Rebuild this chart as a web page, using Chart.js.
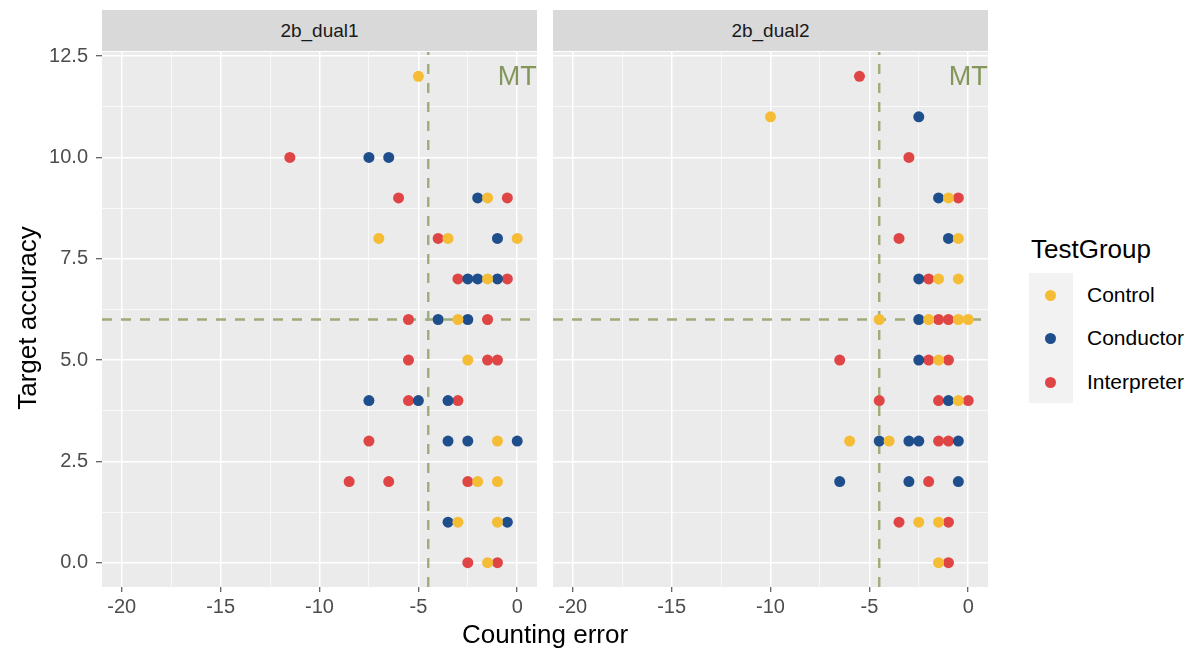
<!DOCTYPE html>
<html>
<head>
<meta charset="utf-8">
<script src="https://cdn.jsdelivr.net/npm/chart.js@4.4.0/dist/chart.umd.min.js"></script>
<style>
  body { margin: 0; width: 1198px; height: 653px; background: #fff; position: relative; overflow: hidden;
         font-family: "Liberation Sans", Arial, sans-serif; }
  .box { position: absolute; }
  .strip { position: absolute; top: 10px; height: 41px; width: 435px; background: #d9d9d9; color: #1a1a1a;
           font-size: 19px; line-height: 41px; text-align: center; }
  .dot { position: absolute; width: 11px; height: 11px; border-radius: 50%; }
  .lab { position: absolute; font-size: 21px; line-height: 26px; color: #000; }
</style>
</head>
<body>
<div class="strip" style="left:102px">2b_dual1</div>
<div class="strip" style="left:553px">2b_dual2</div>
<div class="box" style="left:0;top:40px;width:537px;height:580px"><canvas id="c1"></canvas></div>
<div class="box" style="left:553px;top:40px;width:435px;height:580px"><canvas id="c2"></canvas></div>
<div class="box" style="left:345px;top:619px;width:400px;text-align:center;font-size:26px;line-height:30px">Counting error</div>
<div class="box" style="left:-123px;top:303px;width:300px;height:30px;text-align:center;font-size:26px;line-height:30px;transform:rotate(-90deg)">Target accuracy</div>
<div id="legend"></div>
<script>
const panels = ['2b_dual1', '2b_dual2'];
const groups = ['Control', 'Conductor', 'Interpreter'];
const groupColors = ['#f5bc35', '#1f4e8c', '#e04545'];
const xTicks = [-20, -17.5, -15, -12.5, -10, -7.5, -5, -2.5, 0];
const yTicks = [0, 1.25, 2.5, 3.75, 5, 6.25, 7.5, 8.75, 10, 11.25, 12.5];
const mtX = -4.5;
const mtY = 6;
const mtLabel = 'MT';
const mtLabelX = 0;
const mtLabelY = 12;

// 2b_dual1
const dual1ControlX = [-5, -1.5, -7, -3.5, 0, -1.5, -3, -2.5, -1, -2, -1, -3, -1, -1.5];
const dual1ControlY = [12, 9, 8, 8, 8, 7, 6, 5, 3, 2, 2, 1, 1, 0];
const dual1ConductorX = [-7.5, -6.5, -2, -1, -2.5, -2, -1, -4, -2.5, -7.5, -5, -3.5, -3.5, -2.5, 0, -3.5, -0.5];
const dual1ConductorY = [10, 10, 9, 8, 7, 7, 7, 6, 6, 4, 4, 4, 3, 3, 3, 1, 1];
const dual1InterpreterX = [-11.5, -6, -0.5, -4, -3, -0.5, -5.5, -1.5, -5.5, -1.5, -1, -5.5, -3, -7.5, -8.5, -6.5, -2.5, -2.5, -1];
const dual1InterpreterY = [10, 9, 9, 8, 7, 7, 6, 6, 5, 5, 5, 4, 4, 3, 2, 2, 2, 0, 0];

// 2b_dual2
const dual2ControlX = [-10, -1, -0.5, -1.5, -0.5, -4.5, -2, -0.5, 0, -1.5, -0.5, -6, -4, -2.5, -1.5, -1.5];
const dual2ControlY = [11, 9, 8, 7, 7, 6, 6, 6, 6, 5, 4, 3, 3, 1, 1, 0];
const dual2ConductorX = [-2.5, -1.5, -1, -2.5, -2.5, -2.5, -1, -4.5, -3, -2.5, -0.5, -6.5, -3, -0.5];
const dual2ConductorY = [11, 9, 8, 7, 6, 5, 4, 3, 3, 3, 3, 2, 2, 2];
const dual2InterpreterX = [-5.5, -3, -0.5, -3.5, -2, -1.5, -1, -6.5, -2, -1, -4.5, -1.5, 0, -1.5, -1, -2, -3.5, -1, -1];
const dual2InterpreterY = [12, 10, 9, 8, 7, 6, 6, 5, 5, 5, 4, 4, 4, 3, 3, 2, 1, 1, 0];

function pts(xs, ys) {
  return xs.map((x, i) => ({ x: x, y: ys[i] }));
}

function noPad(s) {
  s.paddingTop = 0;
  s.paddingBottom = 0;
  s.paddingLeft = 0;
  s.paddingRight = 0;
}

const panelBg = {
  id: 'panelBg',
  beforeDraw(chart) {
    const a = chart.chartArea, ctx = chart.ctx;
    ctx.save();
    ctx.fillStyle = '#ebebeb';
    ctx.fillRect(a.left, a.top, a.right - a.left, a.bottom - a.top);
    ctx.restore();
  }
};

const refLines = {
  id: 'refLines',
  beforeDatasetsDraw(chart) {
    const a = chart.chartArea, ctx = chart.ctx;
    const px = chart.scales.x.getPixelForValue(mtX);
    const py = chart.scales.y.getPixelForValue(mtY);
    ctx.save();
    ctx.beginPath();
    ctx.rect(a.left, a.top, a.right - a.left, a.bottom - a.top);
    ctx.clip();
    ctx.strokeStyle = '#9dac78';
    ctx.lineWidth = 2.4;
    ctx.setLineDash([10, 9]);
    ctx.beginPath();
    ctx.moveTo(px, a.bottom);
    ctx.lineTo(px, a.top);
    ctx.stroke();
    ctx.beginPath();
    ctx.moveTo(a.left, py);
    ctx.lineTo(a.right, py);
    ctx.stroke();
    ctx.restore();
  },
  afterDatasetsDraw(chart) {
    const ctx = chart.ctx;
    ctx.save();
    ctx.fillStyle = '#84975a';
    ctx.font = '27px "Liberation Sans", Arial, sans-serif';
    ctx.textAlign = 'center';
    ctx.textBaseline = 'middle';
    ctx.fillText(mtLabel, chart.scales.x.getPixelForValue(mtLabelX), chart.scales.y.getPixelForValue(mtLabelY) + 1);
    ctx.restore();
  }
};

function makeChart(id, series, showY) {
  const datasets = groups.map((g, i) => ({
    label: g,
    data: series[i],
    backgroundColor: groupColors[i],
    borderWidth: 0,
    pointRadius: 5.5,
    pointHoverRadius: 5.5,
  }));
  const config = {
    type: 'scatter',
    data: { datasets: datasets },
    options: {
      responsive: true,
      maintainAspectRatio: false,
      animation: false,
      layout: { autoPadding: false, padding: { top: 12, left: 0, right: 0, bottom: 0 } },
      plugins: { legend: { display: false }, tooltip: { enabled: false } },
      scales: {
        x: {
          type: 'linear',
          min: -21,
          max: 1,
          afterBuildTicks: s => { s.ticks = xTicks.map(v => ({ value: v })); },
          afterFit: s => { s.height = 33; noPad(s); },
          border: { display: false },
          grid: {
            color: '#ffffff',
            lineWidth: c => (c.tick && c.tick.value % 5 === 0 ? 1.5 : 0.7),
            tickColor: c => (c.tick && c.tick.value % 5 === 0 ? '#333333' : 'rgba(0,0,0,0)'),
            tickLength: 5,
            tickWidth: 1,
          },
          ticks: {
            autoSkip: false,
            maxRotation: 0,
            color: '#4d4d4d',
            font: { size: 20, family: '"Liberation Sans", Arial, sans-serif' },
            padding: 3,
            callback: v => (v % 5 === 0 ? String(v) : ''),
          },
        },
        y: {
          type: 'linear',
          min: -0.6,
          max: 12.6,
          afterBuildTicks: s => { s.ticks = yTicks.map(v => ({ value: v })); },
          afterFit: s => { s.width = showY ? 102 : 0; noPad(s); },
          border: { display: false },
          grid: {
            color: '#ffffff',
            lineWidth: c => (c.tick && c.tick.value % 2.5 === 0 ? 1.5 : 0.7),
            tickColor: c => (c.tick && c.tick.value % 2.5 === 0 ? '#333333' : 'rgba(0,0,0,0)'),
            drawTicks: showY,
            tickLength: 6,
            tickWidth: 1,
          },
          ticks: {
            display: showY,
            autoSkip: false,
            color: '#4d4d4d',
            font: { size: 20, family: '"Liberation Sans", Arial, sans-serif' },
            padding: 8,
            callback: v => (v % 2.5 === 0 ? v.toFixed(1) : ''),
          },
        },
      },
    },
    plugins: [panelBg, refLines],
  };
  return new Chart(document.getElementById(id), config);
}

var chart1 = makeChart('c1', [
  pts(dual1ControlX, dual1ControlY),
  pts(dual1ConductorX, dual1ConductorY),
  pts(dual1InterpreterX, dual1InterpreterY),
], true);
var chart2 = makeChart('c2', [
  pts(dual2ControlX, dual2ControlY),
  pts(dual2ConductorX, dual2ConductorY),
  pts(dual2InterpreterX, dual2InterpreterY),
], false);

// legend
var lg = document.getElementById('legend');
var html = '<div class="box" style="left:1031px;top:234px;font-size:26px;line-height:30px">TestGroup</div>';
html += '<div class="box" style="left:1029px;top:273px;width:44px;height:130px;background:#f2f2f2"></div>';
var rowY = [295, 338, 382];
groups.forEach(function (g, i) {
  html += '<div class="dot" style="left:1045px;top:' + (rowY[i] - 5.5) + 'px;background:' + groupColors[i] + '"></div>';
  html += '<div class="lab" style="left:1087px;top:' + (rowY[i] - 13) + 'px">' + g + '</div>';
});
lg.innerHTML = html;
</script>
</body>
</html>
